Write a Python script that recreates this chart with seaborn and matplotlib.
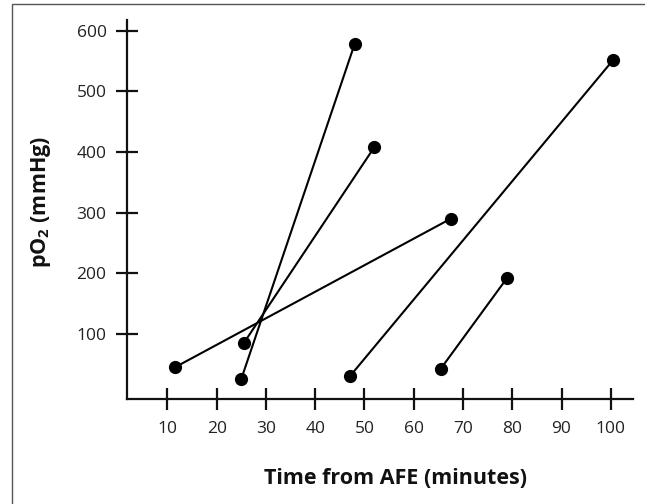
import matplotlib
matplotlib.use("Agg")
import matplotlib.pyplot as plt
from matplotlib.patches import Rectangle
import seaborn as sns
import pandas as pd

# Data: each patient has two measurements (start, end)
patient = ["A", "A", "B", "B", "C", "C", "D", "D", "E", "E"]
time_min = [11.5, 67.5, 25.5, 52.0, 25.0, 48.0, 47.0, 100.5, 65.5, 79.0]
po2_mmhg = [45, 290, 85, 408, 26, 578, 30, 552, 43, 193]

x_ticks = [10, 20, 30, 40, 50, 60, 70, 80, 90, 100]
y_ticks = [100, 200, 300, 400, 500, 600]

df = pd.DataFrame({"patient": patient, "time": time_min, "po2": po2_mmhg})

sns.set_style("ticks")
plt.rcParams["font.family"] = ["Open Sans", "DejaVu Sans"]
plt.rcParams["mathtext.fontset"] = "custom"
plt.rcParams["mathtext.rm"] = "Open Sans"
plt.rcParams["mathtext.bf"] = "Open Sans:bold"

fig = plt.figure(figsize=(6.45, 5.04), dpi=100)
ax = fig.add_axes([127 / 645, 1 - 399.3 / 504, 506 / 645, 379.3 / 504])

sns.lineplot(data=df, x="time", y="po2", units="patient", estimator=None,
             sort=False, color="black", linewidth=1.5, marker="o",
             markersize=9.5, markeredgewidth=0, ax=ax)

ax.set_xlim(1.8, 104.5)
ax.set_ylim(-7.6, 617.6)
ax.set_xticks(x_ticks)
ax.set_xticklabels([str(t) for t in x_ticks])
ax.set_yticks(y_ticks)
ax.set_yticklabels([str(t) for t in y_ticks])

for s in ["top", "right"]:
    ax.spines[s].set_visible(False)
for s in ["left", "bottom"]:
    ax.spines[s].set_linewidth(1.6)
    ax.spines[s].set_color("#111111")

ax.tick_params(axis="both", direction="inout", length=15.5, width=1.6,
               color="#111111", labelsize=12.5, labelcolor="#222222")
ax.tick_params(axis="x", pad=8)
ax.tick_params(axis="y", pad=7)

ax.set_xlabel("Time from AFE (minutes)", fontsize=15.5, fontweight="bold",
              color="#111111", ha="center", va="center")
ax.xaxis.set_label_coords((395.5 - 127) / 506, -(478 - 399.3) / 379.3)
ax.set_ylabel(r"pO$_{\mathbf{2}}$ (mmHg)", fontsize=15.5, fontweight="bold",
              color="#111111", ha="center", va="center")
ax.yaxis.set_label_coords((40.7 - 127) / 506, (399.3 - 201.5) / 379.3)

fig.patches.append(Rectangle((12.3 / 645, -0.1), 1.2, 0.1 + 1 - 4 / 504,
                             transform=fig.transFigure, fill=False,
                             edgecolor="#555555", linewidth=1.0))

fig.savefig("out.png", dpi=100, facecolor="white")
